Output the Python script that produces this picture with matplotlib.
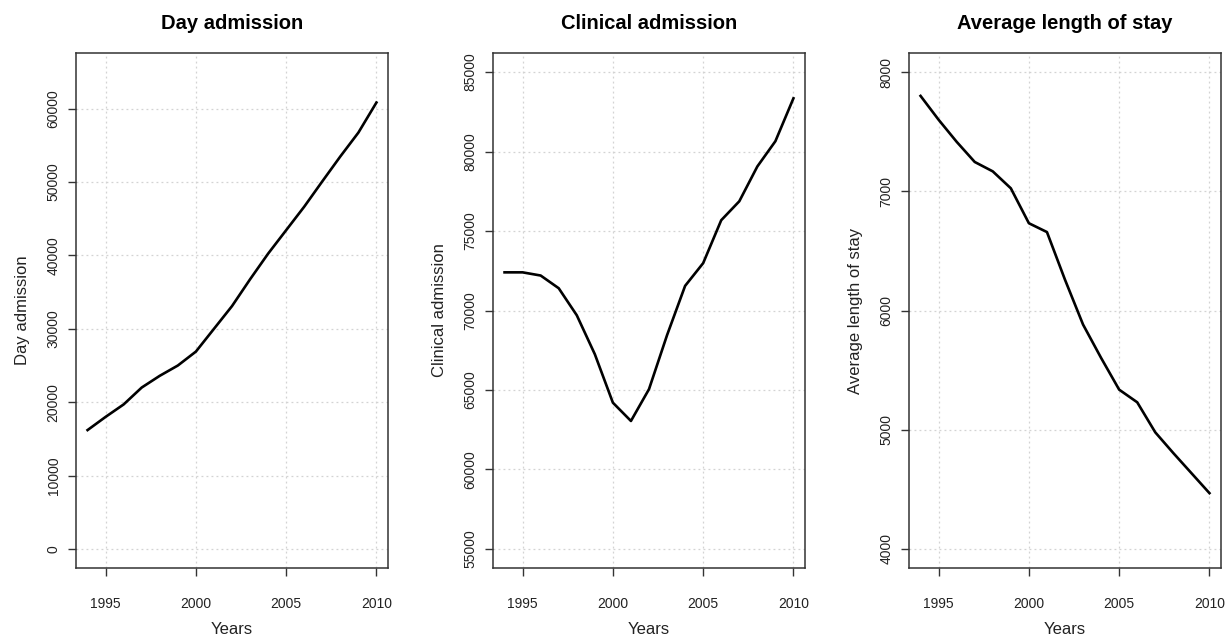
import numpy as np
import matplotlib
matplotlib.use("Agg")
import matplotlib.pyplot as plt

plt.rcParams['font.family'] = ['Liberation Sans', 'DejaVu Sans']

# Data
years = list(range(1994, 2011))

day_admission = [16200, 18000, 19700, 22000, 23600, 25000, 26900, 30000, 33100,
                 36750, 40250, 43450, 46650, 50100, 53500, 56750, 60850]

clinical_admission = [72400, 72400, 72200, 71400, 69700, 67250, 64200, 63050, 65050,
                      68450, 71550, 72980, 75680, 76870, 79060, 80650, 83350]

avg_length_of_stay = [7800, 7600, 7415, 7246, 7167, 7025, 6732, 6658, 6258,
                      5882, 5602, 5336, 5230, 4978, 4804, 4636, 4468]

titles = ["Day admission", "Clinical admission", "Average length of stay"]
series = [day_admission, clinical_admission, avg_length_of_stay]
ylims = [(0, 65000), (55000, 85000), (4000, 8000)]
yticks = [np.arange(0, 60001, 10000), np.arange(55000, 85001, 5000), np.arange(4000, 8001, 1000)]
xticks = [1995, 2000, 2005, 2010]

fig = plt.figure(figsize=(12.3, 6.39), dpi=100)
lefts = [76, 493, 909]

for i in range(3):
    ax = fig.add_axes([lefts[i] / 1230, 1 - 568 / 639, 312 / 1230, 515 / 639])
    ax.plot(years, series[i], color='black', linewidth=1.9, zorder=3)

    # R-style 4% padding
    x0, x1 = min(years), max(years)
    dx = (x1 - x0) * 0.04
    ax.set_xlim(x0 - dx, x1 + dx)
    lo, hi = ylims[i]
    dy = (hi - lo) * 0.04
    ax.set_ylim(lo - dy, hi + dy)

    ax.set_xticks(xticks)
    ax.set_yticks(yticks[i])
    ax.grid(True, color='#d3d3d3', linestyle=(0, (1.5, 2.5)), linewidth=0.9)
    ax.set_axisbelow(True)

    ax.tick_params(axis='both', direction='out', length=6, width=1,
                   color='#333333', labelsize=10, labelcolor='#222222')
    ax.tick_params(axis='x', pad=15)
    ax.tick_params(axis='y', pad=5)
    for lab in ax.get_yticklabels():
        lab.set_rotation(90)
        lab.set_va('center')

    for sp in ax.spines.values():
        sp.set_color('#333333')
        sp.set_linewidth(1.1)

    ax.set_title(titles[i], fontsize=14.5, fontweight='bold', pad=17)
    ax.set_xlabel("Years", fontsize=12, color='#222222', labelpad=8)
    ax.set_ylabel(titles[i], fontsize=12, color='#222222', labelpad=12)

fig.savefig("out.png", dpi=100)
